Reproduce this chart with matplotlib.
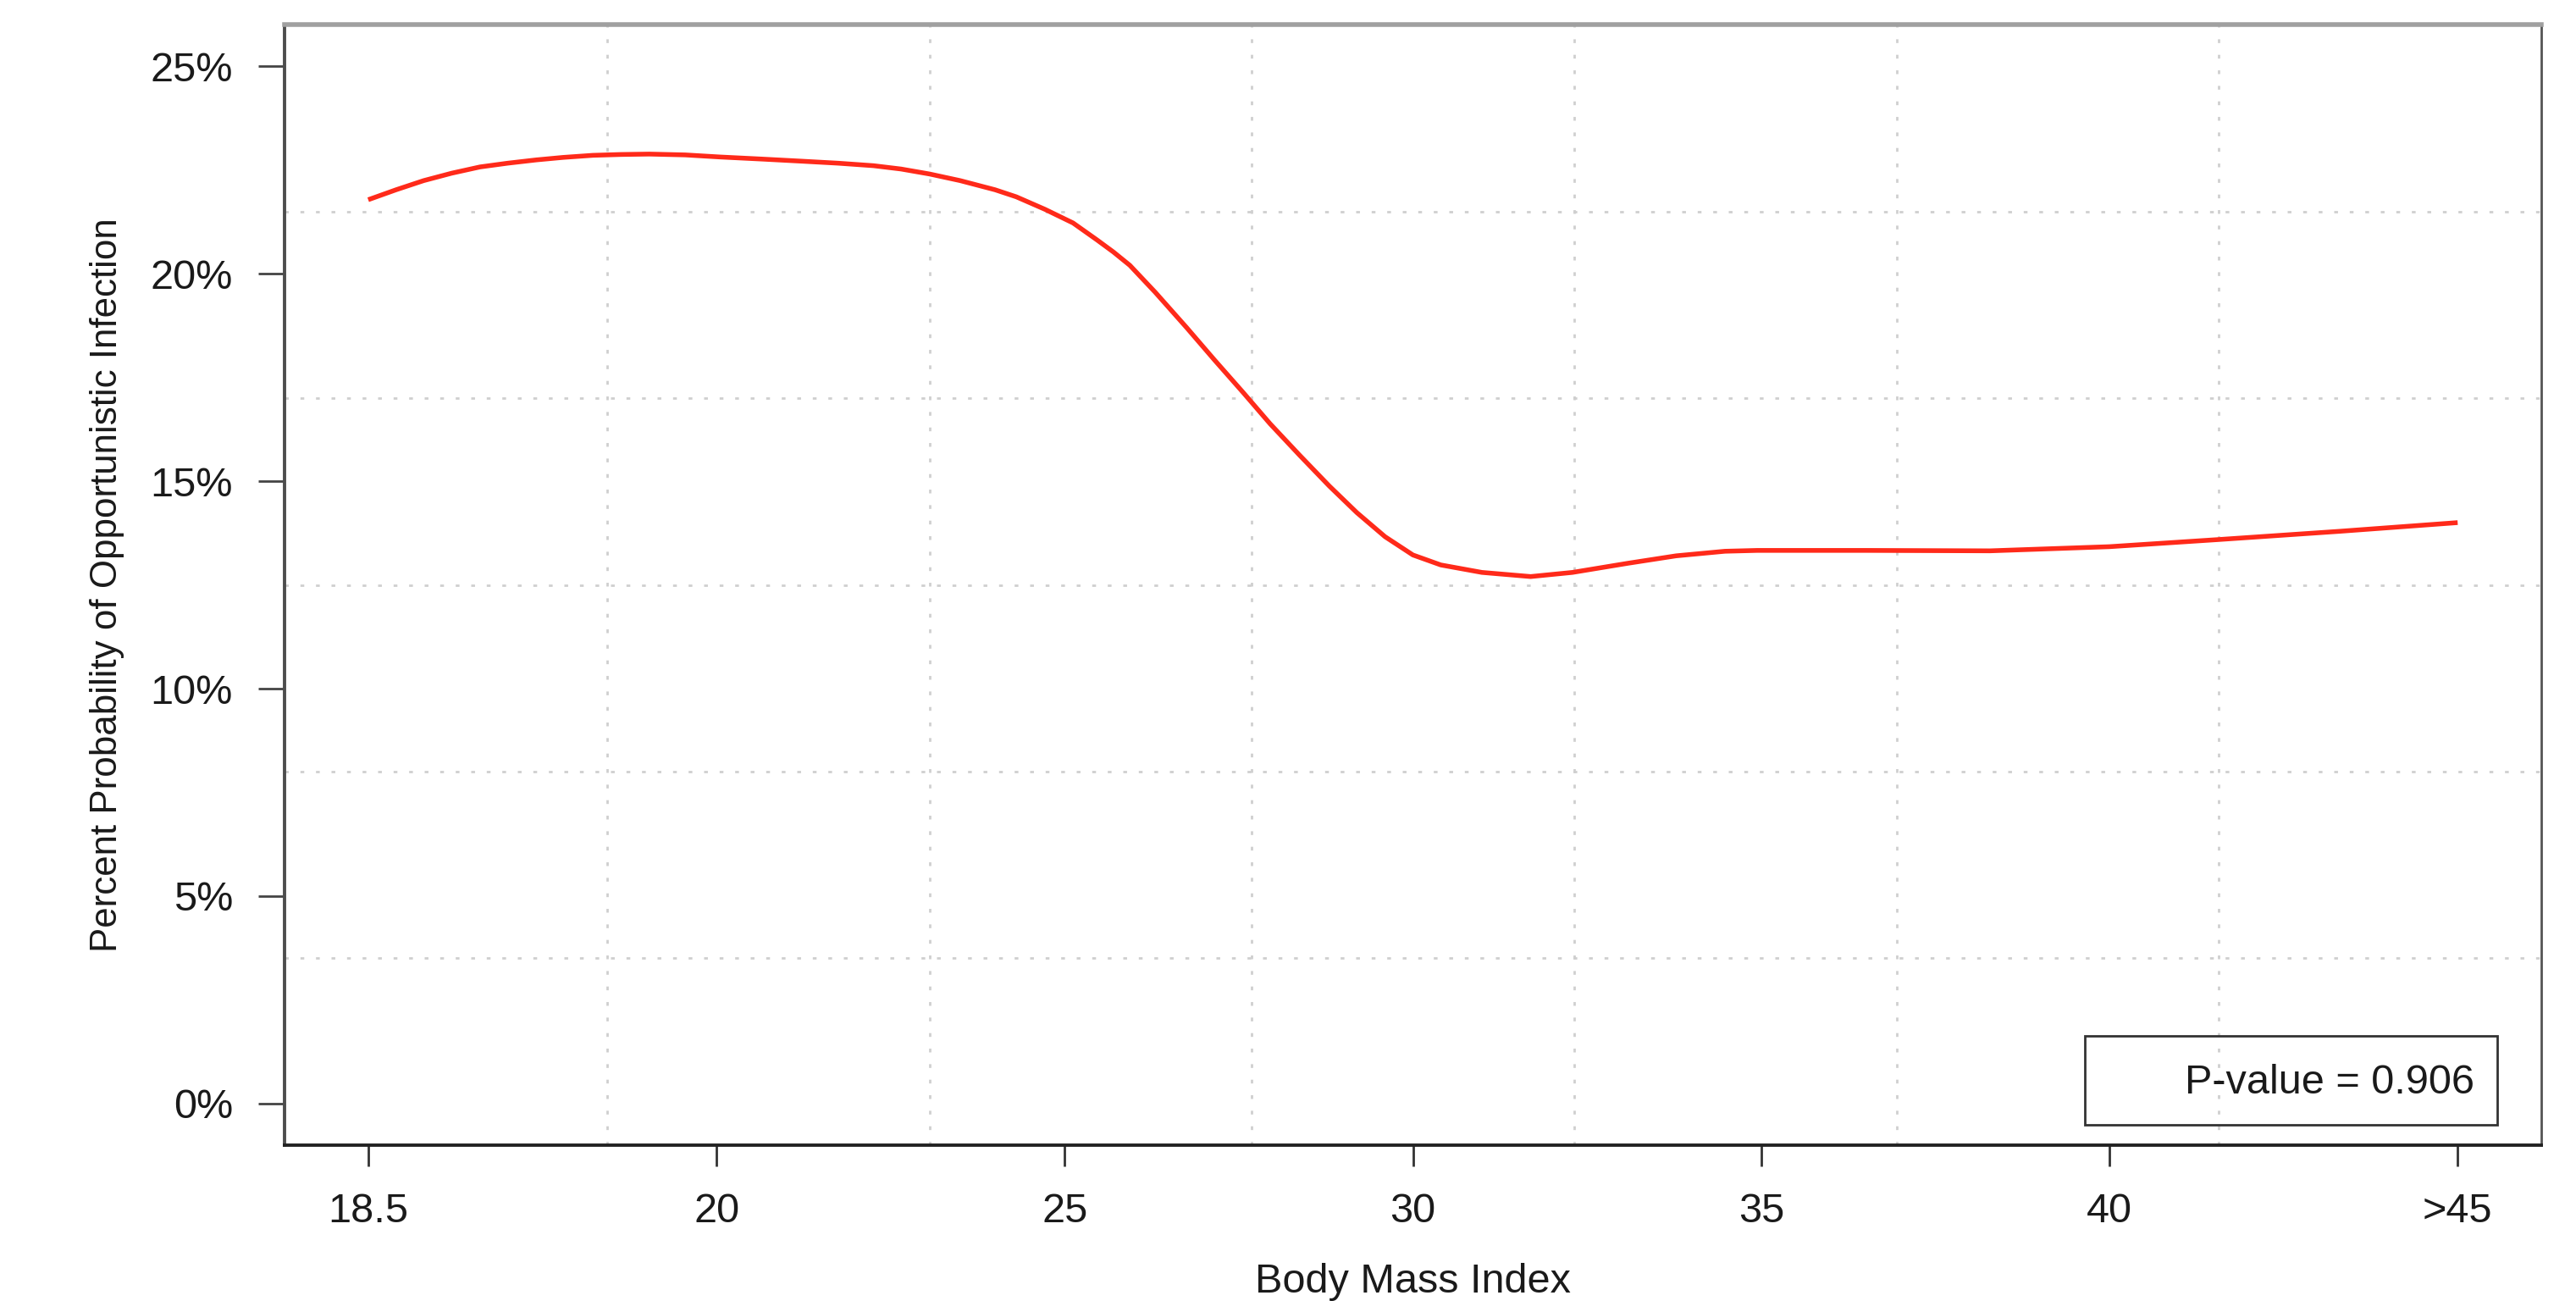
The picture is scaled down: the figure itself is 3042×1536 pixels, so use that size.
"""Predicted probability of opportunistic infection by BMI category (R-style base plot)."""
import matplotlib
matplotlib.use('Agg')
import matplotlib.pyplot as plt
from matplotlib.patches import Rectangle

plt.rcParams['font.family'] = ['Liberation Sans', 'DejaVu Sans']

# axis categories (equally spaced positions on the x axis)
bmi_labels = ['18.5', '20', '25', '30', '35', '40', '>45']
bmi_ticks = [0, 1, 2, 3, 4, 5, 6]

# fitted curve (x in tick units, y in percent)
curve_x = [0.0, 0.08, 0.159, 0.24, 0.321, 0.40, 0.483, 0.56, 0.645, 0.725,
           0.807, 0.91, 1.01, 1.13, 1.242, 1.35, 1.451, 1.53, 1.612, 1.70,
           1.80, 1.861, 1.943, 2.024, 2.093, 2.14, 2.187, 2.26, 2.35, 2.43,
           2.513, 2.59, 2.675, 2.76, 2.839, 2.92, 3.0, 3.08, 3.198, 3.338,
           3.458, 3.617, 3.756, 3.896, 3.989, 4.30, 4.657, 5.0, 5.31, 5.66,
           6.0]
curve_y = [21.78, 22.02, 22.24, 22.42, 22.57, 22.66, 22.74, 22.80, 22.85, 22.87,
           22.88, 22.86, 22.81, 22.76, 22.71, 22.66, 22.60, 22.52, 22.40, 22.24,
           22.02, 21.85, 21.55, 21.22, 20.81, 20.52, 20.20, 19.55, 18.70, 17.92,
           17.13, 16.38, 15.62, 14.88, 14.24, 13.66, 13.22, 12.98, 12.80, 12.70,
           12.80, 13.02, 13.20, 13.31, 13.33, 13.33, 13.32, 13.42, 13.59, 13.79,
           14.00]

y_ticks = [0, 5, 10, 15, 20, 25]
p_text = 'P-value = 0.906'

fig = plt.figure(figsize=(15.21, 7.68), dpi=200)
ax = fig.add_axes([0.1105, 0.1198, 0.876, 0.8613])

xlim = (-0.24, 6.24)
ylim = (-1.0, 26.0)
ax.set_xlim(*xlim)
ax.set_ylim(*ylim)

# R grid(): equal divisions of the plot region
grid_kw = dict(color='#cfcfcf', lw=1.0, ls=(0, (1.6, 5)), zorder=1)
for k in range(1, 7):
    ax.axvline(xlim[0] + k * (xlim[1] - xlim[0]) / 7, **grid_kw)
for k in range(1, 6):
    ax.axhline(ylim[0] + k * (ylim[1] - ylim[0]) / 6, **grid_kw)

ax.plot(curve_x, curve_y, color='#ff2a1a', lw=2.0, zorder=3,
        solid_joinstyle='round', solid_capstyle='butt')

ax.set_xticks(bmi_ticks)
ax.set_xticklabels(bmi_labels)
ax.set_yticks(y_ticks)
ax.set_yticklabels([f'{v}%' for v in y_ticks])
ax.tick_params(axis='x', length=9, width=1.0, color='#333333', pad=11,
               labelsize=17.5, labelcolor='#1a1a1a')
ax.tick_params(axis='y', length=11, width=1.0, color='#444444', pad=11,
               labelsize=17.5, labelcolor='#1a1a1a')

ax.spines['left'].set_color('#4d4d4d')
ax.spines['left'].set_linewidth(1.4)
ax.spines['bottom'].set_color('#222222')
ax.spines['bottom'].set_linewidth(1.4)
ax.spines['top'].set_color('#a0a0a0')
ax.spines['top'].set_linewidth(2.0)
ax.spines['right'].set_color('#555555')
ax.spines['right'].set_linewidth(1.0)

ax.set_xlabel('Body Mass Index', fontsize=17.5, color='#1a1a1a', labelpad=14)
ax.set_ylabel('Percent Probability of Opportunistic Infection', fontsize=15.8,
              color='#1a1a1a', labelpad=11)

# p-value box (legend-like, bottom right)
ax.add_patch(Rectangle((0.7977, 0.0181), 0.1828, 0.0794, transform=ax.transAxes,
                       fill=False, edgecolor='#333333', lw=1.0, zorder=4))
ax.text(0.9704, 0.0552, p_text, transform=ax.transAxes, ha='right', va='center',
        fontsize=17.5, color='#1a1a1a', zorder=5)

fig.savefig('out.png', dpi=200)
